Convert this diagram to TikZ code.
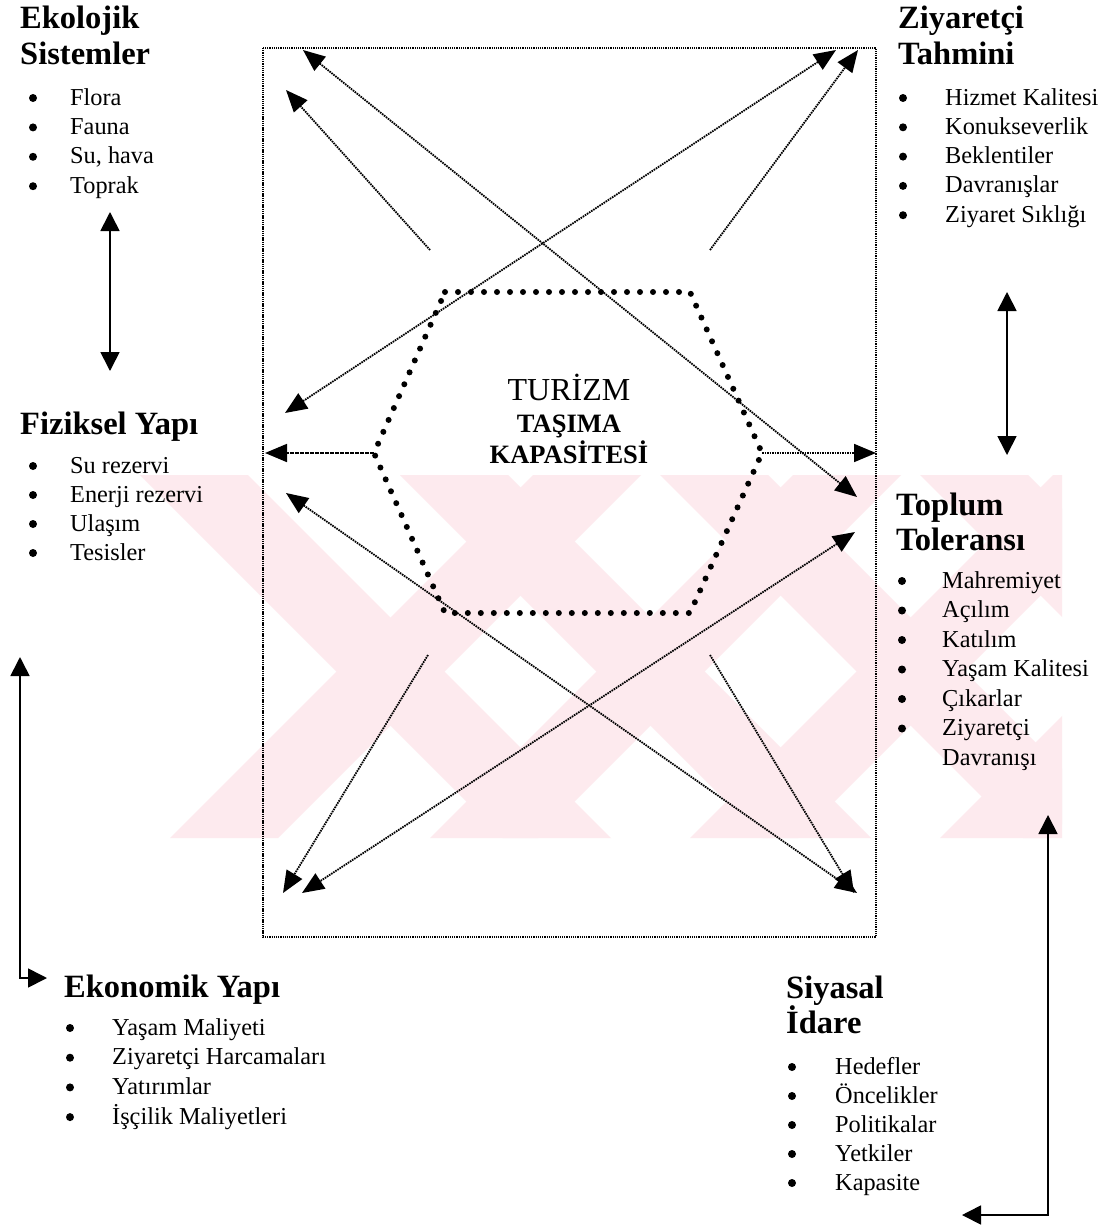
\documentclass[tikz,border=0pt]{standalone}
\usepackage{fontspec}
\setmainfont{Liberation Serif}
\usetikzlibrary{arrows.meta}
\definecolor{wm}{RGB}{253,234,238}
\begin{document}
\begin{tikzpicture}[x=1pt,y=-1pt,
  head/.style={font=\fontsize{32.5}{38}\selectfont\bfseries,anchor=base west,inner sep=0pt},
  item/.style={font=\fontsize{24.3}{29}\selectfont,anchor=base west,inner sep=0pt},
  bul/.style={fill=black,circle,inner sep=0pt,minimum size=8pt},
  conn/.style={line width=1.8pt,dash pattern=on 1.6pt off 0.9pt,>={Triangle[length=22pt,width=18pt]}},
  solidarr/.style={line width=1.7pt,>={Triangle[length=19pt,width=19pt]}},
  hexdots/.style={line width=6pt,line cap=round,dash pattern=on 0pt off 13pt},
  frame/.style={line width=1.4pt,dash pattern=on 1.3pt off 0.9pt}
]
\useasboundingbox (0,0) rectangle (1103,1231);
\fill[white] (0,0) rectangle (1103,1231);

% watermark
\begin{scope}
\clip (140,475) rectangle (1062,838);
\foreach \s in {140,400,660,920}
  \fill[wm] (\s,475) -- ++(108,0) -- ++(363,363) -- ++(-108,0) -- cycle;
\foreach \s in {170,430,690,940}
  \fill[wm] (\s,838) -- ++(108,0) -- ++(363,-363) -- ++(-108,0) -- cycle;
\end{scope}

% frame
\draw[frame] (263,48) rectangle (876,937);

% hexagon
\coordinate (h1) at (445,292);
\coordinate (h2) at (690,292);
\coordinate (h3) at (762,453);
\coordinate (h4) at (690,613);
\coordinate (h5) at (445,613);
\coordinate (h6) at (374,453);
\draw[hexdots] (h1) -- (h2) -- (h3) -- (h4) -- (h5) -- (h6) -- cycle;

\node[font=\fontsize{32}{32}\selectfont,anchor=base,inner sep=0pt] (t1) at (569,400) {TURİZM};
\node[font=\fontsize{26.5}{26}\selectfont\bfseries,anchor=base,inner sep=0pt] (t2) at (569,432) {TAŞIMA};
\node[font=\fontsize{26.5}{26}\selectfont\bfseries,anchor=base,inner sep=0pt] (t3) at (569,463) {KAPASİTESİ};

% connector end points
\coordinate (a1s) at (430,250);  \coordinate (a1e) at (286,90);
\coordinate (a2s) at (303,50);   \coordinate (a2e) at (857,497);
\coordinate (a3s) at (285,413);  \coordinate (a3e) at (836,50);
\coordinate (a4s) at (710,250);  \coordinate (a4e) at (858,50);
\coordinate (a5e) at (265,453);
\coordinate (a6e) at (876,453);
\coordinate (a7s) at (286,493);  \coordinate (a7e) at (857,893);
\coordinate (a8s) at (855,532);  \coordinate (a8e) at (302,893);
\coordinate (a9s) at (428,655);  \coordinate (a9e) at (283,893);
\coordinate (a10s) at (710,655); \coordinate (a10e) at (854,893);

\draw[conn,->] (a1s) -- (a1e);
\draw[conn,<->] (a2s) -- (a2e);
\draw[conn,<->] (a3s) -- (a3e);
\draw[conn,->] (a4s) -- (a4e);
\draw[conn,->] (h6) -- (a5e);
\draw[conn,->] (h3) -- (a6e);
\draw[conn,<->] (a7s) -- (a7e);
\draw[conn,<->] (a8s) -- (a8e);
\draw[conn,->] (a9s) -- (a9e);
\draw[conn,->] (a10s) -- (a10e);

% Ekolojik Sistemler
\node[head] (eko1) at (20,29) {Ekolojik};
\node[head] (eko2) at (20,65) {Sistemler};
\foreach \t [count=\i] in {Flora,Fauna,{Su, hava},Toprak}{
  \node[bul] (ekob\i) at (33,{105+29.4*(\i-1)-7}) {};
  \node[item] (ekoi\i) at (70,{105+29.4*(\i-1)}) {\t};
}

% Fiziksel Yapi
\node[head] (fiz) at (20,434) {Fiziksel Yapı};
\foreach \t [count=\i] in {Su rezervi,Enerji rezervi,Ulaşım,Tesisler}{
  \node[bul] (fizb\i) at (33,{473+29*(\i-1)-7}) {};
  \node[item] (fizi\i) at (70,{473+29*(\i-1)}) {\t};
}

% Ziyaretci Tahmini
\node[head] (ziy1) at (898,29) {Ziyaretçi};
\node[head] (ziy2) at (898,64) {Tahmini};
\foreach \t [count=\i] in {Hizmet Kalitesi,Konukseverlik,Beklentiler,Davranışlar,Ziyaret Sıklığı}{
  \node[bul] (ziyb\i) at (903,{105+29.3*(\i-1)-7}) {};
  \node[item] (ziyi\i) at (945,{105+29.3*(\i-1)}) {\t};
}

% Toplum Toleransi
\node[head] (top1) at (896,515) {Toplum};
\node[head] (top2) at (896,550) {Toleransı};
\foreach \t [count=\i] in {Mahremiyet,Açılım,Katılım,Yaşam Kalitesi,Çıkarlar,Ziyaretçi}{
  \node[bul] (topb\i) at (902,{588+29.5*(\i-1)-7}) {};
  \node[item] (topi\i) at (942,{588+29.5*(\i-1)}) {\t};
}
\node[item] (topi7) at (942,765) {Davranışı};

% Ekonomik Yapi
\node[head] (eko) at (64,997) {Ekonomik Yapı};
\foreach \t [count=\i] in {Yaşam Maliyeti,Ziyaretçi Harcamaları,Yatırımlar,İşçilik Maliyetleri}{
  \node[bul] (ekonb\i) at (70,{1035+29.7*(\i-1)-7}) {};
  \node[item] (ekoni\i) at (112,{1035+29.7*(\i-1)}) {\t};
}

% Siyasal Idare
\node[head] (siy1) at (786,998) {Siyasal};
\node[head] (siy2) at (786,1033) {İdare};
\foreach \t [count=\i] in {Hedefler,Öncelikler,Politikalar,Yetkiler,Kapasite}{
  \node[bul] (siyb\i) at (792,{1074+29*(\i-1)-7}) {};
  \node[item] (siyi\i) at (835,{1074+29*(\i-1)}) {\t};
}

% solid arrows
\coordinate (l1) at (110,212); \coordinate (l2) at (110,371);
\draw[solidarr,<->] (l1) -- (l2);
\coordinate (r1) at (1007,292); \coordinate (r2) at (1007,455);
\draw[solidarr,<->] (r1) -- (r2);
\coordinate (ll1) at (20,657); \coordinate (ll2) at (47,978);
\draw[solidarr,<->] (ll1) |- (ll2);
\coordinate (rl1) at (1048,815); \coordinate (rl2) at (962,1215);
\draw[solidarr,<->] (rl1) |- (rl2);
\end{tikzpicture}
\end{document}
